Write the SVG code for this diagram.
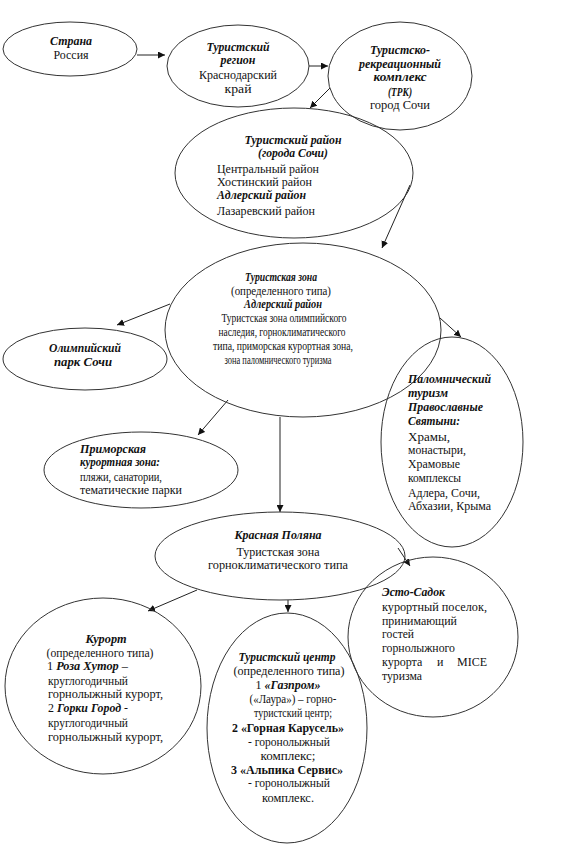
<svg xmlns="http://www.w3.org/2000/svg" width="566" height="853" viewBox="0 0 566 853">
<defs>
<marker id="ah" viewBox="0 0 10 10" refX="10" refY="5" markerWidth="7" markerHeight="7" orient="auto" markerUnits="userSpaceOnUse">
<path d="M0,0 L10,5 L0,10 z" fill="#111"/>
</marker>
<style>
.n{fill:none;stroke:#333;stroke-width:1}
.c line{stroke:#222;stroke-width:1;marker-end:url(#ah)}
text{font-family:"Liberation Serif","Times New Roman",serif;font-size:12px;fill:#111}
.h{font-weight:bold;font-style:italic}
.b{font-weight:bold}
.m{text-anchor:middle}
.z{font-size:11.5px}
</style>
</defs>
<rect width="566" height="853" fill="#fff"/>
<g id="connectors" class="c">
<line x1="137" y1="55" x2="165" y2="55"/>
<line x1="309" y1="66" x2="328" y2="66"/>
<line x1="330" y1="88" x2="310" y2="108"/>
<line x1="410" y1="185" x2="382" y2="248"/>
<line x1="170" y1="304" x2="117" y2="325"/>
<line x1="440" y1="318" x2="461" y2="337"/>
<line x1="228" y1="400" x2="198" y2="435"/>
<line x1="280" y1="417" x2="280" y2="512"/>
<line x1="398" y1="548" x2="410" y2="566"/>
<line x1="197" y1="590" x2="148" y2="611"/>
<line x1="288" y1="600" x2="288" y2="612"/>
</g>
<g id="strana">
<ellipse class="n" cx="70" cy="49" rx="67" ry="27"/>
<text class="h m" x="71" y="45" textLength="42" lengthAdjust="spacingAndGlyphs">Страна</text>
<text class="m" x="71" y="59" textLength="35" lengthAdjust="spacingAndGlyphs">Россия</text>
</g>
<g id="region">
<ellipse class="n" cx="238" cy="66" rx="71" ry="41"/>
<text class="h m" x="238" y="51" textLength="63" lengthAdjust="spacingAndGlyphs">Туристский</text>
<text class="h m" x="238" y="64" textLength="35" lengthAdjust="spacingAndGlyphs">регион</text>
<text class="m" x="238" y="79" textLength="78" lengthAdjust="spacingAndGlyphs">Краснодарский</text>
<text class="m" x="238" y="93" textLength="27" lengthAdjust="spacingAndGlyphs">край</text>
</g>
<g id="trk">
<ellipse class="n" cx="400" cy="76" rx="72" ry="54"/>
<text class="h m" x="400" y="54" textLength="60" lengthAdjust="spacingAndGlyphs">Туристско-</text>
<text class="h m" x="400" y="68" textLength="82" lengthAdjust="spacingAndGlyphs">рекреационный</text>
<text class="h m" x="400" y="81" textLength="53" lengthAdjust="spacingAndGlyphs">комплекс</text>
<text class="h m" x="400" y="96" textLength="24" lengthAdjust="spacingAndGlyphs">(ТРК)</text>
<text class="m" x="400" y="109" textLength="60" lengthAdjust="spacingAndGlyphs">город Сочи</text>
</g>
<g id="rayon">
<ellipse class="n" cx="294" cy="173" rx="119" ry="65"/>
<text class="h m" x="293" y="144" textLength="97" lengthAdjust="spacingAndGlyphs">Туристский район</text>
<text class="h m" x="293" y="157" textLength="70" lengthAdjust="spacingAndGlyphs">(города Сочи)</text>
<text x="217" y="173" textLength="102" lengthAdjust="spacingAndGlyphs">Центральный район</text>
<text x="217" y="186" textLength="95" lengthAdjust="spacingAndGlyphs">Хостинский район</text>
<text class="h" x="217" y="199" textLength="89" lengthAdjust="spacingAndGlyphs">Адлерский район</text>
<text x="217" y="215" textLength="98" lengthAdjust="spacingAndGlyphs">Лазаревский район</text>
</g>
<g id="zona">
<ellipse class="n" cx="303" cy="330" rx="138" ry="87"/>
<text class="h m z" x="281" y="281" textLength="72" lengthAdjust="spacingAndGlyphs">Туристская зона</text>
<text class="m z" x="281" y="295" textLength="100" lengthAdjust="spacingAndGlyphs">(определенного типа)</text>
<text class="h m z" x="283" y="308" textLength="78" lengthAdjust="spacingAndGlyphs">Адлерский район</text>
<text class="m z" x="284" y="322" textLength="125" lengthAdjust="spacingAndGlyphs">Туристская зона олимпийского</text>
<text class="m z" x="282" y="336" textLength="127" lengthAdjust="spacingAndGlyphs">наследия, горноклиматического</text>
<text class="m z" x="283" y="350" textLength="140" lengthAdjust="spacingAndGlyphs">типа, приморская курортная зона,</text>
<text class="m z" x="278" y="364" textLength="107" lengthAdjust="spacingAndGlyphs">зона паломнического туризма</text>
</g>
<g id="olymp">
<ellipse class="n" cx="85" cy="359" rx="82" ry="31"/>
<text class="h m" x="85" y="352" textLength="72" lengthAdjust="spacingAndGlyphs">Олимпийский</text>
<text class="h m" x="83" y="366" textLength="58" lengthAdjust="spacingAndGlyphs">парк Сочи</text>
</g>
<g id="palom">
<ellipse class="n" cx="452" cy="442" rx="71" ry="105"/>
<text class="h" x="408" y="383" textLength="83" lengthAdjust="spacingAndGlyphs">Паломнический</text>
<text class="h" x="408" y="397" textLength="40" lengthAdjust="spacingAndGlyphs">туризм</text>
<text class="h" x="408" y="411" textLength="75" lengthAdjust="spacingAndGlyphs">Православные</text>
<text class="h" x="408" y="425" textLength="52" lengthAdjust="spacingAndGlyphs">Святыни:</text>
<text x="408" y="441" textLength="42" lengthAdjust="spacingAndGlyphs">Храмы,</text>
<text x="408" y="454" textLength="58" lengthAdjust="spacingAndGlyphs">монастыри,</text>
<text x="408" y="468" textLength="52" lengthAdjust="spacingAndGlyphs">Храмовые</text>
<text x="408" y="482" textLength="53" lengthAdjust="spacingAndGlyphs">комплексы</text>
<text x="408" y="497" textLength="72" lengthAdjust="spacingAndGlyphs">Адлера, Сочи,</text>
<text x="408" y="510" textLength="83" lengthAdjust="spacingAndGlyphs">Абхазии, Крыма</text>
</g>
<g id="primor">
<ellipse class="n" cx="141" cy="470" rx="97" ry="38"/>
<text class="h" x="80" y="453" textLength="66" lengthAdjust="spacingAndGlyphs">Приморская</text>
<text class="h" x="80" y="466" textLength="80" lengthAdjust="spacingAndGlyphs">курортная зона:</text>
<text x="80" y="481" textLength="82" lengthAdjust="spacingAndGlyphs">пляжи, санатории,</text>
<text x="80" y="494" textLength="102" lengthAdjust="spacingAndGlyphs">тематические парки</text>
</g>
<g id="krasnaya">
<ellipse class="n" cx="280" cy="556" rx="125" ry="44"/>
<text class="h m" x="278" y="539" textLength="87" lengthAdjust="spacingAndGlyphs">Красная Поляна</text>
<text class="m" x="278" y="556" textLength="83" lengthAdjust="spacingAndGlyphs">Туристская зона</text>
<text class="m" x="278" y="569" textLength="140" lengthAdjust="spacingAndGlyphs">горноклиматического типа</text>
</g>
<g id="esto">
<ellipse class="n" cx="433" cy="637" rx="85" ry="80"/>
<text class="h" x="382" y="596" textLength="63" lengthAdjust="spacingAndGlyphs">Эсто-Садок</text>
<text x="382" y="611" textLength="105" lengthAdjust="spacingAndGlyphs">курортный поселок,</text>
<text x="382" y="625" textLength="75" lengthAdjust="spacingAndGlyphs">принимающий</text>
<text x="382" y="638" textLength="32" lengthAdjust="spacingAndGlyphs">гостей</text>
<text x="382" y="652" textLength="73" lengthAdjust="spacingAndGlyphs">горнолыжного</text>
<text x="382" y="666">курорта</text>
<text x="437" y="666">и</text>
<text x="487" y="666" text-anchor="end">MICE</text>
<text x="382" y="680" textLength="40" lengthAdjust="spacingAndGlyphs">туризма</text>
</g>
<g id="kurort">
<ellipse class="n" cx="103" cy="686" rx="98" ry="88"/>
<text class="h m" x="106" y="643" textLength="41" lengthAdjust="spacingAndGlyphs">Курорт</text>
<text class="m" x="100" y="657" textLength="107" lengthAdjust="spacingAndGlyphs">(определенного типа)</text>
<text x="47" y="670" textLength="81" lengthAdjust="spacingAndGlyphs">1 <tspan class="h">Роза Хутор</tspan> –</text>
<text x="48" y="685" textLength="80" lengthAdjust="spacingAndGlyphs">круглогодичный</text>
<text x="48" y="698" textLength="115" lengthAdjust="spacingAndGlyphs">горнолыжный курорт,</text>
<text x="48" y="712" textLength="80" lengthAdjust="spacingAndGlyphs">2 <tspan class="h">Горки Город</tspan> -</text>
<text x="48" y="727" textLength="80" lengthAdjust="spacingAndGlyphs">круглогодичный</text>
<text x="48" y="741" textLength="115" lengthAdjust="spacingAndGlyphs">горнолыжный курорт,</text>
</g>
<g id="centr">
<ellipse class="n" cx="287" cy="728" rx="80" ry="115"/>
<text class="h m" x="287" y="661" textLength="97" lengthAdjust="spacingAndGlyphs">Туристский центр</text>
<text class="m" x="289" y="675" textLength="111" lengthAdjust="spacingAndGlyphs">(определенного типа)</text>
<text class="m" x="288" y="689" textLength="65" lengthAdjust="spacingAndGlyphs">1 <tspan class="h">«Газпром»</tspan></text>
<text class="m" x="293" y="703" textLength="87" lengthAdjust="spacingAndGlyphs">(«Лаура») – горно-</text>
<text class="m" x="293" y="717" textLength="78" lengthAdjust="spacingAndGlyphs">туристский центр;</text>
<text class="m b" x="288" y="732" textLength="112" lengthAdjust="spacingAndGlyphs">2 «Горная Карусель»</text>
<text class="m" x="289" y="746" textLength="82" lengthAdjust="spacingAndGlyphs">- горонолыжный</text>
<text class="m" x="288" y="760" textLength="55" lengthAdjust="spacingAndGlyphs">комплекс;</text>
<text class="m b" x="287" y="774" textLength="112" lengthAdjust="spacingAndGlyphs">3 «Альпика Сервис»</text>
<text class="m" x="289" y="787" textLength="82" lengthAdjust="spacingAndGlyphs">- горонолыжный</text>
<text class="m" x="288" y="802" textLength="52" lengthAdjust="spacingAndGlyphs">комплекс.</text>
</g>
</svg>
